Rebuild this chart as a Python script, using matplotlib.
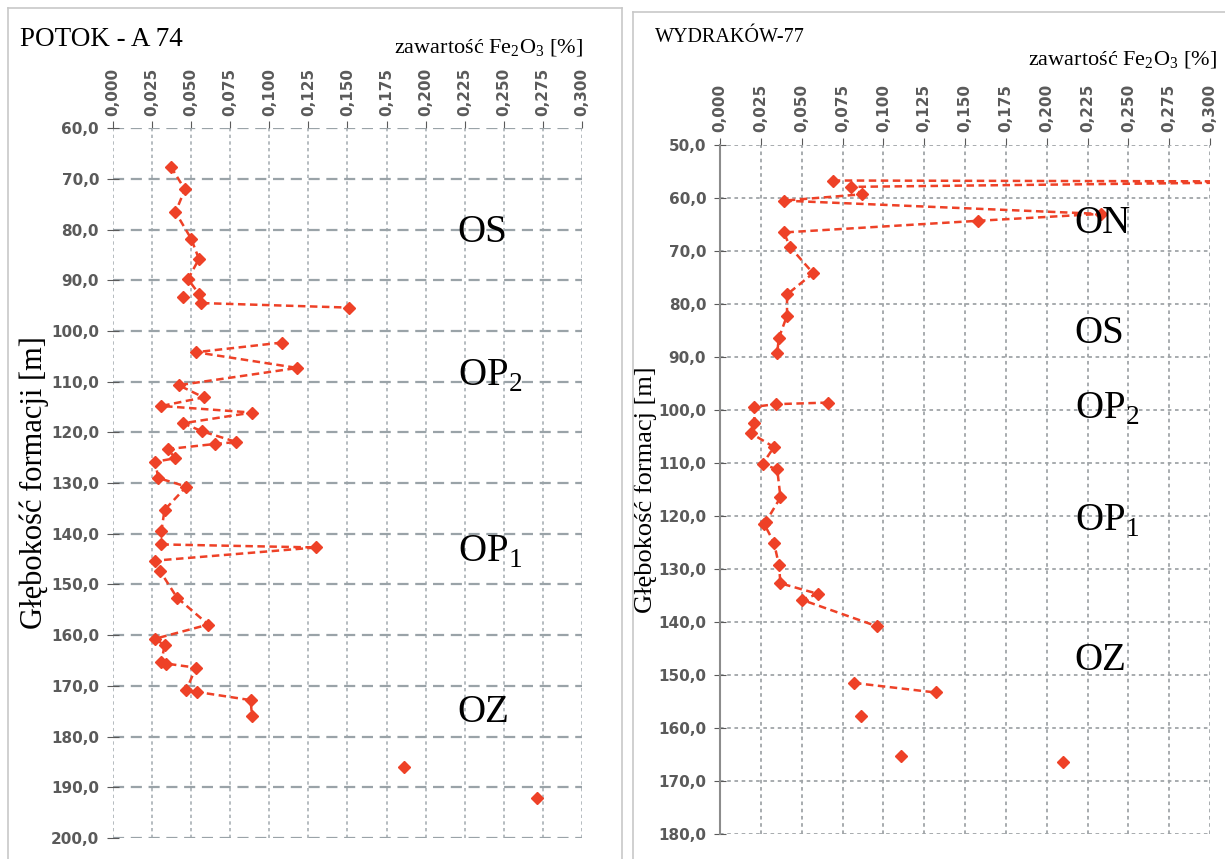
import numpy as np
import matplotlib
matplotlib.use("Agg")
import matplotlib.pyplot as plt
import matplotlib.ticker as ticker
from matplotlib.lines import Line2D

nan = np.nan

# POTOK - A 74 (NaN = przerwa w linii)
depth_a74 = [67.6, 72.1, 76.6, 81.8, 85.8, 89.8, 92.7, 94.5, 95.4, nan, 93.3, nan,
             102.3, 104.2, 107.3, 110.7, 113.1, 114.8, 116.1, 118.2, 119.8, 121.9,
             122.3, 123.3, 125.1, 125.8, 129.0, 130.7, 135.3, 139.4, nan, 142.1,
             142.7, 145.3, 147.3, 152.6, 157.9, 160.7, 162.0, 165.3, 165.6, 166.4,
             170.8, 171.2, 172.8, 176.0, nan, 186.0, nan, 192.2]
fe_a74 = [0.037, 0.046, 0.040, 0.050, 0.055, 0.048, 0.055, 0.056, 0.151, nan, 0.045, nan,
          0.108, 0.053, 0.118, 0.042, 0.058, 0.031, 0.089, 0.045, 0.057, 0.079,
          0.065, 0.035, 0.040, 0.027, 0.029, 0.047, 0.033, 0.031, nan, 0.031,
          0.130, 0.027, 0.030, 0.041, 0.061, 0.027, 0.033, 0.031, 0.034, 0.053,
          0.047, 0.054, 0.088, 0.089, nan, 0.186, nan, 0.271]

# WYDRAKOW-77
depth_w77 = [56.7, 56.9, 57.9, 59.3, 60.5, 63.0, 64.3, 66.5, 69.3, 74.2, 78.2, 82.2,
             86.4, 89.2, nan, 98.6, 98.9, 99.4, 102.5, 104.4, 107.0, 110.2, 111.2,
             116.5, 121.1, 121.5, 125.0, 129.2, 132.7, 134.7, 135.8, 140.8, nan,
             151.5, 153.3, nan, 157.7, nan, 165.3, nan, 166.5]
fe_w77 = [0.069, 0.37, 0.080, 0.087, 0.039, 0.233, 0.158, 0.039, 0.043, 0.057, 0.041, 0.041,
          0.036, 0.035, nan, 0.066, 0.034, 0.021, 0.021, 0.019, 0.033, 0.026, 0.035,
          0.037, 0.028, 0.027, 0.033, 0.036, 0.037, 0.060, 0.050, 0.096, nan,
          0.082, 0.132, nan, 0.086, nan, 0.111, nan, 0.210]

zones_a74 = [("OS", 80.5), ("OP$_\\mathregular{2}$", 109.0), ("OP$_\\mathregular{1}$", 143.6), ("OZ", 175.2)]
zones_w77 = [("ON", 64.9), ("OS", 85.5), ("OP$_\\mathregular{2}$", 99.8),
             ("OP$_\\mathregular{1}$", 120.9), ("OZ", 147.2)]

RED = '#ee4127'
TICK_COL = '#5a5a5a'
SERIF = 'Liberation Serif'

plt.rcParams['mathtext.fontset'] = 'custom'
plt.rcParams['mathtext.rm'] = SERIF

fig = plt.figure(figsize=(12.25, 8.59), dpi=100)

comma1 = ticker.FuncFormatter(lambda v, p: ('%.1f' % v).replace('.', ','))
comma3 = ticker.FuncFormatter(lambda v, p: ('%.3f' % v).replace('.', ','))


def setup(ax, ymin, ymax, hstyle, vstyle):
    ax.set_xlim(0, 0.3)
    ax.set_ylim(ymax, ymin)
    ax.xaxis.set_major_locator(ticker.MultipleLocator(0.025))
    ax.yaxis.set_major_locator(ticker.MultipleLocator(10))
    ax.xaxis.set_major_formatter(comma3)
    ax.yaxis.set_major_formatter(comma1)
    ax.xaxis.tick_top()
    ax.tick_params(axis='x', labelrotation=90, labelsize=11, colors=TICK_COL,
                   direction='out', length=5, pad=4)
    ax.tick_params(axis='y', labelsize=11, colors=TICK_COL, direction='inout',
                   length=8, pad=6)
    for s in ax.spines.values():
        s.set_visible(False)
    ax.grid(axis='y', color=hstyle[0], lw=hstyle[1], dashes=hstyle[2])
    ax.grid(axis='x', color=vstyle[0], lw=vstyle[1], dashes=vstyle[2])
    ax.set_axisbelow(True)
    for lab in ax.get_xticklabels() + ax.get_yticklabels():
        lab.set_fontweight('bold')


# lewy panel
ax1 = fig.add_axes([0.0922, 0.0244, 0.3829, 0.8265])
setup(ax1, 60, 200, ('#9aa3a8', 1.6, (5, 3)), ('#a9b0b5', 1.2, (2, 2)))
ax1.plot(fe_a74, depth_a74, color=RED, lw=1.8, dashes=(3, 1.8), marker='D',
         markersize=6.5, markerfacecolor=RED, markeredgecolor=RED)
ax1.set_ylabel('Głębokość formacji [m]', family=SERIF, fontsize=22, labelpad=1)
for lab, d in zones_a74:
    ax1.text(0.2205, d, lab, family=SERIF, fontsize=28, ha='left', va='center')

# prawy panel
ax2 = fig.add_axes([0.5878, 0.0291, 0.4, 0.8021])
setup(ax2, 50, 180, ('#a0a5a8', 1.3, (2, 2)), ('#a0a5a8', 1.3, (2, 2)))
ax2.spines['left'].set_visible(True)
ax2.spines['left'].set_color('#8c8c8c')
ax2.spines['left'].set_linewidth(1.5)
ax2.plot(fe_w77, depth_w77, color=RED, lw=1.8, dashes=(3, 1.8), marker='D',
         markersize=6.5, markerfacecolor=RED, markeredgecolor=RED)
ax2.set_ylabel('Głębokość formacj [m]', family=SERIF, fontsize=19, labelpad=1)
for lab, d in zones_w77:
    ax2.text(0.2172, d, lab, family=SERIF, fontsize=28, ha='left', va='center')

# tytuly
fig.text(20 / 1225, 1 - 40 / 859, 'POTOK - A 74', family=SERIF, fontsize=19.5, va='center')
fig.text(583 / 1225, 1 - 48 / 859, 'zawartość Fe$_\\mathregular{2}$O$_\\mathregular{3}$ [%]',
         family=SERIF, fontsize=16, va='center', ha='right')
fig.text(655 / 1225, 1 - 38 / 859, 'WYDRAKÓW-77', family=SERIF, fontsize=14.5, va='center')
fig.text(1217 / 1225, 1 - 60 / 859, 'zawartość Fe$_\\mathregular{2}$O$_\\mathregular{3}$ [%]',
         family=SERIF, fontsize=16, va='center', ha='right')

# ramki paneli
fc = '#c8c8c8'
W, H = 1225.0, 859.0
for (x0, y0, x1, y1) in [(8, 8, 622, 8), (8, 8, 8, 859), (622, 8, 622, 859),
                         (633, 12, 1225, 12), (633, 12, 633, 859)]:
    fig.add_artist(Line2D([x0 / W, x1 / W], [1 - y0 / H, 1 - y1 / H],
                          transform=fig.transFigure, color=fc, lw=1.2))

fig.savefig('out.png', dpi=100)
